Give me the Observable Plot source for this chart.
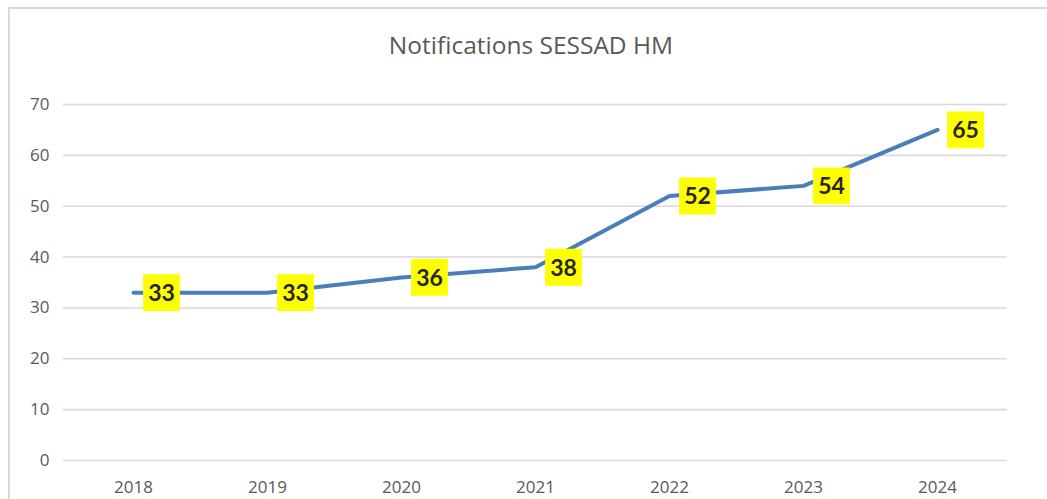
<!DOCTYPE html>
<html>
<head>
<meta charset="utf-8">
<script src="https://cdn.jsdelivr.net/npm/d3@7"></script>
<script src="https://cdn.jsdelivr.net/npm/@observablehq/plot@0.6"></script>
<style>
  html, body { margin: 0; padding: 0; background: #fff; }
  #wrap { position: relative; width: 1047px; height: 499px; overflow: hidden; }
  #frame { position: absolute; left: 8px; top: 7px; width: 1100px; height: 600px; border-left: 2px solid #d9d9d9; border-top: 2px solid #d9d9d9; }
  #title { position: absolute; left: 0; width: 1062px; top: 28px; text-align: center; font-family: "Open Sans", sans-serif; font-size: 24.5px; color: #595959; }
  #chart { position: absolute; left: 0; top: 0; }
</style>
</head>
<body>
<div id="wrap">
  <div id="frame"></div>
  <div id="title">Notifications SESSAD HM</div>
  <div id="chart"></div>
</div>
<script>
const years = ["2018", "2019", "2020", "2021", "2022", "2023", "2024"];
const notifications = [33, 33, 36, 38, 52, 54, 65];
const yTicks = [0, 10, 20, 30, 40, 50, 60, 70];

const data = years.map((y, i) => ({year: y, value: notifications[i]}));

const chart = Plot.plot({
  width: 1047,
  height: 499,
  marginLeft: 63,
  marginRight: 40,
  marginTop: 104,
  marginBottom: 39,
  style: {fontFamily: "Open Sans, sans-serif", background: "transparent", overflow: "visible"},
  x: {type: "point", domain: years, padding: 0.5, label: null},
  y: {domain: [0, 70], label: null},
  marks: [
    Plot.ruleY(yTicks, {stroke: "#d9d9d9", strokeWidth: 1.6}),
    Plot.axisY(yTicks, {tickSize: 0, tickPadding: 14, fontSize: 17, fill: "#595959", label: null}),
    Plot.axisX({tickSize: 0, tickPadding: 20, fontSize: 17, fill: "#595959", label: null}),
    Plot.line(data, {x: "year", y: "value", stroke: "#4a7ebb", strokeWidth: 4, strokeLinejoin: "round", strokeLinecap: "round"}),
    Plot.dot(data, {x: "year", y: "value", symbol: "square", r: 20.8, fill: "#ffff00", stroke: null, dx: 28}),
    Plot.text(data, {x: "year", y: "value", text: d => String(d.value), dx: 28, dy: 1, fontSize: 23, fontWeight: "bold", fill: "#262626", fontFamily: "Lato, sans-serif"})
  ]
});
document.getElementById("chart").appendChild(chart);
</script>
</body>
</html>
